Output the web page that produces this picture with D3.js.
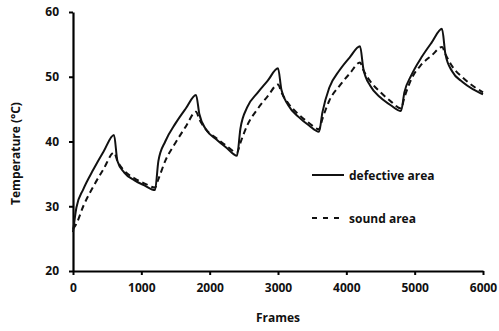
<!DOCTYPE html>
<html>
<head>
<meta charset="utf-8">
<script src="https://cdn.jsdelivr.net/npm/d3@7"></script>
<style>
  body { margin: 0; background: #fff; }
  svg text { font-family: "Open Sans", Lato, sans-serif; font-weight: bold; fill: #111; }
</style>
</head>
<body>
<svg id="chart" width="499" height="331"></svg>
<script>
// frames sampled along each heating / cooling cycle
var frames = [0, 50, 150, 300, 450, 600, 650, 750, 900, 1050,
  1200, 1250, 1350, 1500, 1650, 1800, 1850, 1950, 2100, 2250,
  2400, 2450, 2550, 2700, 2850, 3000, 3050, 3150, 3300, 3450,
  3600, 3650, 3750, 3900, 4050, 4200, 4250, 4350, 4500, 4650,
  4800, 4850, 4950, 5100, 5250, 5400, 5450, 5550, 5700, 5850,
  6000];

var defective = [26.0, 29.8, 32.6, 35.7, 38.5, 41.0, 37.0, 35.2, 34.0, 33.2,
  32.5, 37.0, 40.0, 42.8, 45.1, 47.2, 44.2, 41.8, 40.3, 39.0,
  37.8, 42.0, 45.3, 47.5, 49.4, 51.3, 48.0, 45.6, 43.8, 42.5,
  41.5, 44.5, 48.3, 51.0, 53.0, 54.7, 51.2, 48.6, 46.8, 45.6,
  44.7, 47.6, 50.2, 53.0, 55.3, 57.4, 53.5, 50.8, 49.2, 48.1,
  47.3];

var sound = [26.5, 27.3, 30.0, 33.1, 35.8, 38.3, 37.0, 35.5, 34.3, 33.5,
  32.9, 34.2, 37.0, 39.8, 42.3, 44.6, 43.4, 41.8, 40.5, 39.3,
  38.3, 39.8, 42.5, 45.0, 47.0, 48.8, 47.6, 45.9, 44.2, 42.9,
  41.9, 43.5, 46.3, 48.6, 50.5, 52.2, 51.0, 49.3, 47.6, 46.2,
  45.1, 46.8, 49.6, 51.9, 53.3, 54.6, 53.5, 51.6, 49.9, 48.6,
  47.6];

var xTicks = [0, 1000, 2000, 3000, 4000, 5000, 6000];
var yTicks = [20, 30, 40, 50, 60];

var margin = {top: 12, right: 16, bottom: 60, left: 73};
var width = 499 - margin.left - margin.right;
var height = 331 - margin.top - margin.bottom;

var xScale = d3.scaleLinear().domain([0, 6000]).range([0, width]);
var yScale = d3.scaleLinear().domain([20, 60]).range([height, 0]);

var svg = d3.select("#chart")
  .append("g")
  .attr("transform", "translate(" + margin.left + "," + margin.top + ")");

// x axis
var xAxis = svg.append("g")
  .attr("transform", "translate(0," + height + ")")
  .call(d3.axisBottom(xScale).tickValues(xTicks).tickFormat(d3.format("d"))
    .tickSize(4).tickPadding(8).tickSizeOuter(0));
xAxis.select(".domain").attr("stroke", "#000").attr("stroke-width", 2.2);
xAxis.selectAll(".tick line").attr("stroke", "#000").attr("stroke-width", 2);
xAxis.selectAll("text").style("font-size", "12px");

// y axis
var yAxis = svg.append("g")
  .call(d3.axisLeft(yScale).tickValues(yTicks).tickSize(4).tickPadding(10).tickSizeOuter(0));
yAxis.select(".domain").attr("stroke", "#000").attr("stroke-width", 2.2);
yAxis.selectAll(".tick line").attr("stroke", "#000").attr("stroke-width", 2);
yAxis.selectAll("text").style("font-size", "12px");

var idx = d3.range(frames.length);
var line = function(vals) {
  return d3.line()
    .x(function(i) { return xScale(frames[i]); })
    .y(function(i) { return yScale(vals[i]); })
    .curve(d3.curveMonotoneX)(idx);
};

svg.append("path")
  .attr("d", line(sound))
  .attr("fill", "none")
  .attr("stroke", "#111")
  .attr("stroke-width", 2)
  .attr("stroke-dasharray", "6,4");

svg.append("path")
  .attr("d", line(defective))
  .attr("fill", "none")
  .attr("stroke", "#111")
  .attr("stroke-width", 2);

// legend
var legend = svg.append("g").attr("transform", "translate(" + (312 - margin.left) + "," + (175 - margin.top) + ")");
legend.append("line").attr("x1", 0).attr("x2", 32).attr("y1", 0).attr("y2", 0)
  .attr("stroke", "#111").attr("stroke-width", 2);
legend.append("text").attr("x", 37).attr("y", 4.5).style("font-size", "12px").text("defective area");
legend.append("line").attr("x1", 0).attr("x2", 32).attr("y1", 43).attr("y2", 43)
  .attr("stroke", "#111").attr("stroke-width", 2).attr("stroke-dasharray", "5,6");
legend.append("text").attr("x", 37).attr("y", 47.5).style("font-size", "12px").text("sound area");

// axis titles
svg.append("text")
  .attr("x", width / 2)
  .attr("y", height + 51)
  .attr("text-anchor", "middle")
  .style("font-size", "12px")
  .text("Frames");

svg.append("text")
  .attr("transform", "translate(" + (-53) + "," + (height / 2 + 12) + ") rotate(-90)")
  .attr("text-anchor", "middle")
  .style("font-size", "12px")
  .text("Temperature (°C)");
</script>
</body>
</html>
